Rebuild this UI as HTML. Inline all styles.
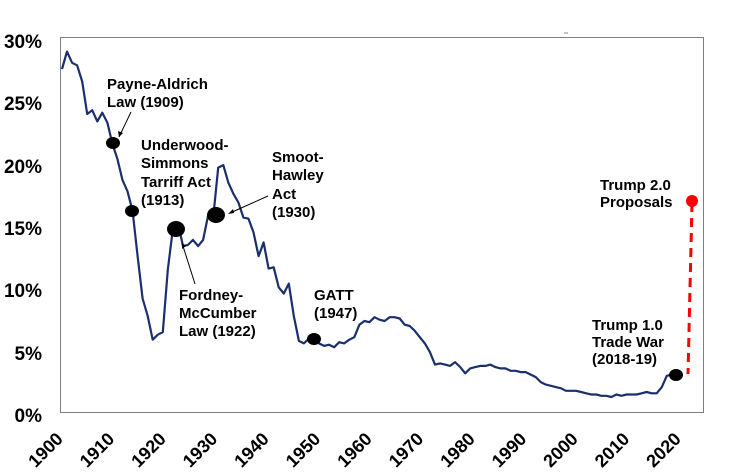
<!DOCTYPE html>
<html><head><meta charset="utf-8"><style>
html,body{margin:0;padding:0;background:#fff;width:731px;height:476px;overflow:hidden}
text{font-family:"Liberation Sans",Arial,sans-serif;font-weight:bold;fill:#000}
</style></head><body>
<svg width="731" height="476" viewBox="0 0 731 476">
<rect x="60.5" y="37.5" width="643" height="375" fill="none" stroke="#7f7f7f" stroke-width="1"/>
<g font-size="19" text-anchor="end">
<text x="42" y="48">30%</text>
<text x="42" y="110">25%</text>
<text x="42" y="173">20%</text>
<text x="42" y="235">15%</text>
<text x="42" y="297">10%</text>
<text x="42" y="360">5%</text>
<text x="42" y="422">0%</text>
</g>
<g id="xl" font-size="18" text-anchor="end"></g>
<polyline id="line" fill="none" stroke="#1a2f6b" stroke-width="2.2" stroke-linejoin="round"/>
<line x1="692" y1="203" x2="688" y2="374" stroke="#ff0000" stroke-width="3" stroke-dasharray="9,6"/>
<circle cx="692" cy="201" r="6" fill="#ff0000"/>
<g fill="#000">
<ellipse cx="113" cy="143" rx="7" ry="6"/>
<ellipse cx="132" cy="211" rx="7" ry="6"/>
<ellipse cx="176" cy="229" rx="9" ry="8"/>
<ellipse cx="216" cy="215" rx="9" ry="8"/>
<ellipse cx="314" cy="339" rx="7" ry="6"/>
<ellipse cx="676" cy="375" rx="7" ry="6"/>
</g>
<g stroke="#000" stroke-width="1" fill="none">
<line x1="131" y1="112" x2="119" y2="137"/>
<line x1="195" y1="284" x2="182" y2="243"/>
<line x1="268" y1="196" x2="230" y2="213"/>
</g>
<path d="M119 137 l-1 -6 l5 2 z M228 214 l5 -5 l1 4 z M182 243 l0 6 l4 -3 z" fill="#000"/>
<g font-size="15">
<text x="107" y="89">Payne-Aldrich</text>
<text x="107" y="107">Law (1909)</text>
<text x="141" y="150">Underwood-</text>
<text x="141" y="168">Simmons</text>
<text x="141" y="187">Tarriff Act</text>
<text x="141" y="205">(1913)</text>
<text x="272" y="162">Smoot-</text>
<text x="272" y="180">Hawley</text>
<text x="272" y="199">Act</text>
<text x="272" y="217">(1930)</text>
<text x="179" y="300">Fordney-</text>
<text x="179" y="318">McCumber</text>
<text x="179" y="336">Law (1922)</text>
<text x="314" y="300">GATT</text>
<text x="314" y="318">(1947)</text>
<text x="600" y="190">Trump 2.0</text>
<text x="600" y="207">Proposals</text>
<text x="592" y="330">Trump 1.0</text>
<text x="592" y="347">Trade War</text>
<text x="592" y="364">(2018-19)</text>
</g>
<line x1="564" y1="33" x2="568" y2="33" stroke="#888" stroke-width="1"/>
</svg>
<script>
var d=[27.5,28.9,28,27.8,26.5,23.9,24.2,23.3,24,23.2,21.5,20.3,18.6,17.7,16.1,12.5,9.1,7.7,5.8,6.2,6.4,11.4,14.7,15.2,13.3,13.4,13.8,13.3,13.8,15.8,15.6,19.6,19.8,18.4,17.5,16.8,15.6,15.5,14.4,12.5,13.6,11.5,11.6,10,9.5,10.3,7.7,5.7,5.5,5.9,6.0,5.5,5.3,5.4,5.2,5.6,5.5,5.8,6.0,7.0,7.3,7.2,7.6,7.4,7.3,7.6,7.6,7.5,7.0,6.9,6.5,6.0,5.5,4.8,3.8,3.9,3.8,3.7,4.0,3.6,3.1,3.5,3.6,3.7,3.7,3.8,3.6,3.5,3.5,3.3,3.3,3.2,3.2,3.0,2.8,2.4,2.2,2.1,2.0,1.9,1.7,1.7,1.7,1.6,1.5,1.4,1.4,1.3,1.3,1.2,1.4,1.3,1.4,1.4,1.4,1.5,1.6,1.5,1.5,2.0,2.9,3.0];
var X=function(y){return 62+(y-1900)*5.04},Y=function(v){return 412-v*12.47};
document.getElementById('line').setAttribute('points',d.map(function(v,i){return X(1900+i).toFixed(1)+','+Y(v).toFixed(1)}).join(' '));
var g=document.getElementById('xl'),s='';
for(var i=0;i<=12;i++){var x=(64+i*51.5).toFixed(1),y=440;s+='<text x="'+x+'" y="'+y+'" transform="rotate(-45 '+x+' '+y+')">'+(1900+i*10)+'</text>';}
g.innerHTML=s;
</script>
</body></html>
